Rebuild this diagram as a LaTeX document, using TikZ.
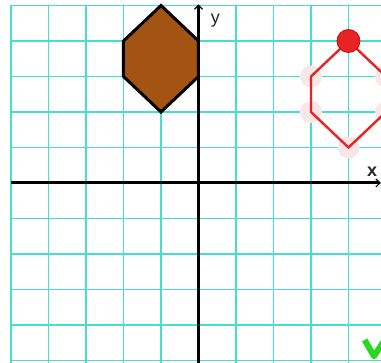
\documentclass[tikz,border=0pt]{standalone}
\usepackage{fontspec}
\setmainfont{Liberation Sans}
\usetikzlibrary{arrows.meta}
\definecolor{gridc}{RGB}{70,222,205}
\definecolor{brownc}{RGB}{163,84,18}
\definecolor{redc}{RGB}{232,35,35}
\definecolor{pinkc}{RGB}{249,230,230}
\definecolor{checkc}{RGB}{40,215,30}
\begin{document}
\begin{tikzpicture}[x=37.5pt,y=35.5pt,
  gridline/.style={gridc,line width=1.9pt},
  axisline/.style={black,line width=3pt},
  axtip/.style={-{Straight Barb[line width=1.2pt,length=4pt,width=8pt]}},
  lbl/.style={font=\fontsize{18}{18}\selectfont,inner sep=0pt,text=black!85},
  ghost/.style={fill=pinkc},
  shapebrown/.style={fill=brownc,draw=black,line width=3pt,line join=miter},
  shapered/.style={draw=redc,line width=2.4pt}]
\useasboundingbox (-5.2933,-5.0704) rectangle (4.8667,5.1549);
\clip (-5.2933,-5.0704) rectangle (4.8667,5.1549);
% grid
\foreach \i in {-5,...,4} \draw[gridline] (\i,5) -- (\i,-5.2);
\foreach \j in {-5,...,5} \draw[gridline] (-5,\j) -- (5,\j);
% brown hexagon
\coordinate (b1) at (-1,5);
\coordinate (b2) at (0,4);
\coordinate (b3) at (0,3);
\coordinate (b4) at (-1,2);
\coordinate (b5) at (-2,3);
\coordinate (b6) at (-2,4);
\draw[shapebrown] (b1) -- (b2) -- (b3) -- (b4) -- (b5) -- (b6) -- cycle;
% axes
\coordinate (xs) at (-5,0);
\coordinate (xe) at (4.86,0);
\coordinate (ys) at (0,-5.2);
\coordinate (ye) at (0,5.03);
\draw[axisline,axtip] (xs) -- (xe);
\draw[axisline,axtip] (ys) -- (ye);
\node[lbl] (ylab) at (0.45,4.58) {y};
\node[lbl] (xlab) at (4.63,0.33) {\bfseries x};
% red hexagon with ghost vertices
\coordinate (r1) at (4,4);
\coordinate (r2) at (5,3);
\coordinate (r3) at (5,2);
\coordinate (r4) at (4,1);
\coordinate (r5) at (3,2);
\coordinate (r6) at (3,3);
\foreach \p in {r2,r3,r4,r5,r6} \fill[ghost] (\p) circle[radius=11pt];
\draw[shapered] (r1) -- (r2) -- (r3) -- (r4) -- (r5) -- (r6) -- cycle;
\fill[redc,draw={rgb,255:red,200;green,10;blue,10},line width=0.8pt] (r1) circle[radius=11.5pt];
% check mark
\coordinate (c1) at (4.43,-4.42);
\coordinate (c2) at (4.68,-4.88);
\coordinate (c3) at (5.1,-4.2);
\draw[checkc,line width=6pt,line join=round] (c1) -- (c2) -- (c3);
\end{tikzpicture}
\end{document}
